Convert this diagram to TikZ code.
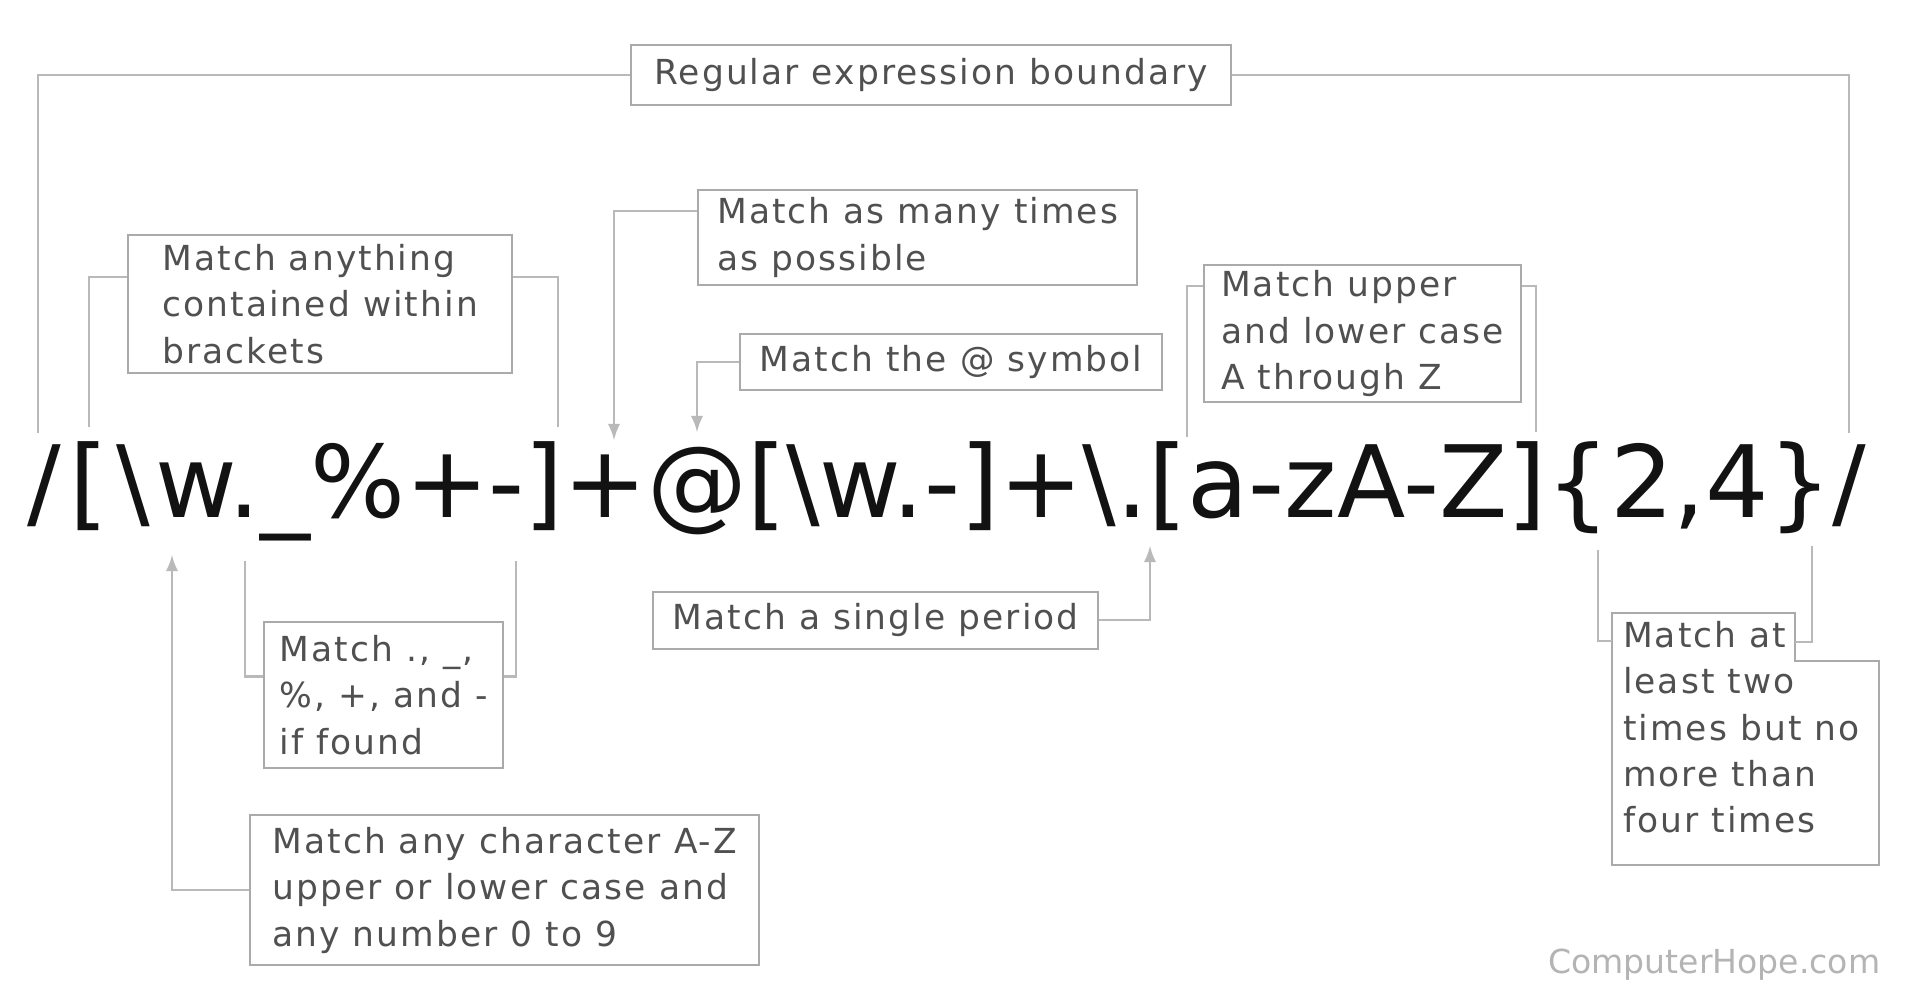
\documentclass[tikz,border=0pt]{standalone}
\usepackage{fontspec}
\setmainfont{DejaVu Sans}
\newfontfamily\notefont[LetterSpace=6]{DejaVu Sans}
\usetikzlibrary{arrows}
\definecolor{notetext}{RGB}{80,80,80}
\definecolor{notebox}{RGB}{170,170,170}
\definecolor{leadgray}{RGB}{185,185,185}
\definecolor{marktext}{RGB}{180,180,180}
\tikzstyle{note} = [draw=notebox, line width=0.6pt, text=notetext, font={\notefont\fontsize{9.8}{13.2}\selectfont}, align=left, inner sep=0pt, anchor=north west]
\tikzstyle{lead} = [line width=0.6pt, color=leadgray]
\tikzstyle{pointer} = [lead, ->, >=latex]

\begin{document}
\begin{tikzpicture}[x=0.01cm, y=-0.01cm]
\useasboundingbox[fill=white] (0,0) rectangle (1906,996);

% The expression (kerns bring the glyphs under the leads)
\node[font=\fontsize{28.4}{34}\selectfont, text=black!93, inner sep=0pt, anchor=base west] (regex) at (27,517) {/\kern0.08cm[\kern0.08cm\textbackslash\kern0.06cm w.\_\%+-]+@[\textbackslash w.-]+\textbackslash .[a-zA-Z]\{2,4\}/};

% Notes above
\node[note, minimum width=6.0cm, minimum height=0.6cm, align=center] (bound) at (630,44) {Regular expression boundary};
\node[note, minimum width=3.84cm, minimum height=1.38cm] (brackets) at (127,234) {Match anything\\contained within\\brackets};
\node[note, minimum width=4.39cm, minimum height=0.95cm] (many) at (697,189) {Match as many times\\as possible};
\node[note, minimum width=4.22cm, minimum height=0.56cm, align=center] (atsym) at (739,333) {Match the @ symbol};
\node[note, minimum width=3.17cm, minimum height=1.37cm] (letters) at (1203,264) {Match upper\\and lower case\\A through Z};

% Notes below
\node[note, minimum width=2.39cm, minimum height=1.46cm] (special) at (263,621) {Match ., \_,\\\%, +, and -\\if found};
\node[note, minimum width=5.09cm, minimum height=1.50cm] (chars) at (249,814) {Match any character A-Z\\upper or lower case and\\any number 0 to 9};
\node[note, minimum width=4.45cm, minimum height=0.565cm, align=center] (period) at (652,591) {Match a single period};
\node[note, draw=none] (count) at (1622,620) {Match at\\least two\\times but no\\more than\\four times};
\draw[color=notebox, line width=0.6pt] (1612,613) -- (1795,613) -- (1795,661) -- (1879,661) -- (1879,865) -- (1612,865) -- cycle;

\node[font=\fontsize{9.4}{11}\selectfont, text=marktext, inner sep=0pt, anchor=base east] (site) at (1881,973) {ComputerHope.com};

% Boundary slashes
\coordinate (slashL) at (38,433);
\coordinate (slashR) at (1849,433);
\draw[lead] (slashL) |- (bound.west);
\draw[lead] (bound.east) -| (slashR);

% First bracket group
\coordinate (openA) at (89,427);
\coordinate (closeA) at (558,427);
\draw[lead] (openA) |- ([yshift=-0.43cm]brackets.north west);
\draw[lead] (closeA) |- ([yshift=-0.43cm]brackets.north east);
\coordinate (wordA) at (172,555);
\draw[pointer] (chars.west) -| (wordA);
\coordinate (openB) at (245,561);
\coordinate (closeB) at (516,561);
\draw[lead] (openB) |- ([yshift=-0.555cm]special.north west);
\draw[lead] (closeB) |- ([yshift=-0.555cm]special.north east);

% Plus and at sign
\coordinate (plusA) at (614,440);
\draw[pointer] ([yshift=-0.22cm]many.north west) -| (plusA);
\coordinate (atA) at (697,432);
\draw[pointer] (atsym.west) -| (atA);

% Escaped period
\coordinate (dotA) at (1150,546);
\draw[pointer] (period.east) -| (dotA);

% Letter range
\coordinate (openC) at (1187,437);
\coordinate (closeC) at (1536,432);
\draw[lead] (openC) |- ([yshift=-0.22cm]letters.north west);
\draw[lead] (closeC) |- ([yshift=-0.22cm]letters.north east);

% Quantifier
\coordinate (openD) at (1598,550);
\coordinate (closeD) at (1812,546);
\coordinate (countL) at (1612,641);
\coordinate (countR) at (1795,642);
\draw[lead] (openD) |- (countL);
\draw[lead] (closeD) |- (countR);
\end{tikzpicture}
\end{document}
